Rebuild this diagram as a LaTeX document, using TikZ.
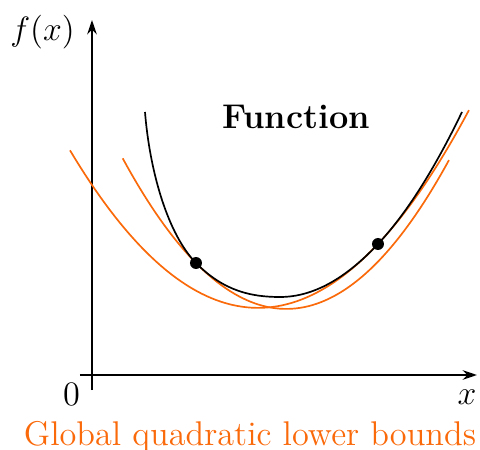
\documentclass[tikz,border=0pt]{standalone}
\usepackage{amsmath}
\usetikzlibrary{arrows.meta}
\definecolor{bdorange}{RGB}{250,105,10}
\begin{document}
\begin{tikzpicture}
        [font=\fontsize{12.2}{14}\selectfont,
         axis/.style={line width=0.7pt, -{Stealth[length=1.8mm, width=1.2mm]}},
         func/.style={line width=0.6pt},
         lowerbd/.style={line width=0.6pt, bdorange},
         touch/.style={circle, fill, inner sep=0pt, minimum size=1.5mm}]
        \useasboundingbox (-1.15,-0.9375) rectangle (4.85,4.6875);
        \coordinate (xstart) at (-0.15, 0);
        \coordinate (xend)   at (4.8125, 0);
        \coordinate (ystart) at (0, -0.1875);
        \coordinate (yend)   at (0, 4.4375);
        \draw [axis] (xstart) -- (xend);
        \draw [axis] (ystart) -- (yend);
        \node (ylabel) at (-0.619, 4.29) {$f(x)$};
        \node (xlabel) at (4.6875, -0.28) {$x$};
        \node (zero)   at (-0.256, -0.244) {0};
        \node (fname)  at (2.55, 3.22) {\textbf{Function}};
        \node (bdname) at (1.975, -0.775)[text=bdorange] {Global quadratic lower bounds};
        \draw [lowerbd] plot[domain=-0.275:4.7125, samples=80] (\x, {0.356*(\x-2.077)^2+0.839});
        \draw [lowerbd] plot[domain=0.384:4.4625, samples=80] (\x, {0.45*(\x-2.429)^2+0.826});
        \coordinate (fstart) at (0.6625, 3.2875);
        \coordinate (tangL)  at (1.3, 1.4);
        \coordinate (fmin)   at (2.35, 0.975);
        \coordinate (tangR)  at (3.575, 1.6375);
        \coordinate (fend)   at (4.625, 3.2875);
        \draw [func] (fstart) .. controls (0.7225, 2.5375) and (0.95, 1.756) .. (tangL)
                              .. controls (1.65, 1.044) and (2.0, 0.975) .. (fmin)
                              .. controls (2.76, 0.975) and (3.165, 1.2) .. (tangR)
                              .. controls (3.925, 2.011) and (4.275, 2.561) .. (fend);
        \node (dotL) at (tangL)[touch] {};
        \node (dotR) at (tangR)[touch] {};
    \end{tikzpicture}
\end{document}
